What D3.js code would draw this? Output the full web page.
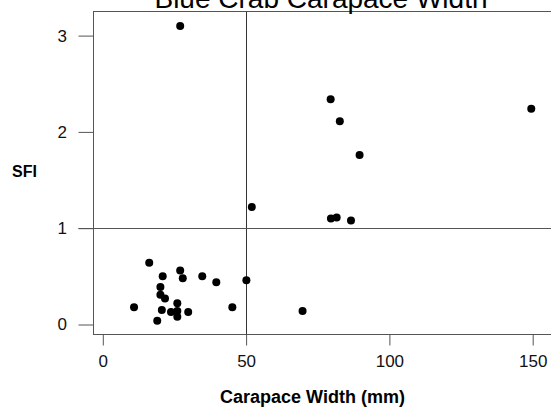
<!DOCTYPE html>
<html>
<head>
<meta charset="utf-8">
<script src="https://cdn.jsdelivr.net/npm/d3@7/dist/d3.min.js"></script>
<style>
  body { margin: 0; background: #fff; }
  svg { display: block; font-family: "Liberation Sans", Arial, sans-serif; }
</style>
</head>
<body>
<svg id="chart" width="551" height="407"></svg>
<script>

// carapace width (mm) and SFI
var widthMM = [27.0, 79.5, 82.7, 149.5, 89.6, 52.0, 79.6, 81.6, 86.6, 69.7,
               16.2, 20.9, 27.0, 27.9, 34.7, 39.6, 50.1, 20.1, 20.1, 21.7,
               10.9, 26.0, 20.6, 23.8, 26.0, 26.0, 29.8, 19.0, 45.2];
var sfi = [3.10, 2.34, 2.11, 2.24, 1.76, 1.22, 1.10, 1.11, 1.08, 0.14,
           0.64, 0.50, 0.56, 0.48, 0.50, 0.44, 0.46, 0.39, 0.31, 0.27,
           0.18, 0.22, 0.15, 0.13, 0.14, 0.08, 0.13, 0.04, 0.18];

var xTicks = [0, 50, 100, 150];
var yTicks = [0, 1, 2, 3];
var refX = 50, refY = 1;

var title = "Blue Crab Carapace Width";
var xTitle = "Carapace Width (mm)";
var yTitle = "SFI";

var svg = d3.select("#chart");

// frame of the plot area
var frameL = 93.5, frameT = 11.5, frameB = 334.5, frameR = 553;

var xScale = d3.scaleLinear()
  .domain([0, 150])
  .range([102.8, 532.7]);

var yScale = d3.scaleLinear()
  .domain([0, 3])
  .range([324.5, 35.6]);

svg.append("rect")
  .attr("x", frameL)
  .attr("y", frameT)
  .attr("width", frameR - frameL)
  .attr("height", frameB - frameT)
  .attr("fill", "none")
  .attr("stroke", "#555")
  .attr("stroke-width", 1);

// reference lines
svg.append("line")
  .attr("x1", Math.round(xScale(refX)) + 0.5)
  .attr("x2", Math.round(xScale(refX)) + 0.5)
  .attr("y1", frameT)
  .attr("y2", frameB)
  .attr("stroke", "#333");

svg.append("line")
  .attr("x1", frameL - 15)
  .attr("x2", frameR)
  .attr("y1", Math.round(yScale(refY)) + 0.5)
  .attr("y2", Math.round(yScale(refY)) + 0.5)
  .attr("stroke", "#555");

var yAxis = d3.axisLeft(yScale)
  .tickValues(yTicks)
  .tickSize(15)
  .tickPadding(11.5)
  .tickFormat(d3.format("d"));

var xAxis = d3.axisBottom(xScale)
  .tickValues(xTicks)
  .tickSize(11)
  .tickPadding(9.5)
  .tickFormat(d3.format("d"));

svg.append("g")
  .attr("class", "y axis")
  .attr("transform", "translate(" + frameL + ",0)")
  .call(yAxis);

svg.append("g")
  .attr("class", "x axis")
  .attr("transform", "translate(0," + frameB + ")")
  .call(xAxis);

svg.selectAll(".axis .domain").remove();
svg.selectAll(".axis line").attr("stroke", "#555");
svg.selectAll(".axis text")
  .attr("fill", "#111")
  .attr("font-family", "'Liberation Sans', Arial, sans-serif")
  .attr("font-size", 17);

// points
var points = widthMM.map(function(d, i){ return {x: d, y: sfi[i]}; });

svg.selectAll(".dot")
  .data(points)
  .enter().append("circle")
  .attr("class", "dot")
  .attr("r", 4)
  .attr("cx", function(d){ return xScale(d.x); })
  .attr("cy", function(d){ return yScale(d.y); })
  .attr("fill", "#000");

// titles
svg.append("text")
  .text(title)
  .attr("x", 321)
  .attr("y", 8)
  .attr("text-anchor", "middle")
  .attr("font-size", 28)
  .attr("fill", "#000");

svg.append("text")
  .text(xTitle)
  .attr("x", 312.5)
  .attr("y", 402.5)
  .attr("text-anchor", "middle")
  .attr("font-size", 18)
  .attr("font-weight", "bold")
  .attr("fill", "#000");

svg.append("text")
  .text(yTitle)
  .attr("x", 12)
  .attr("y", 176.5)
  .attr("font-size", 16)
  .attr("font-weight", "bold")
  .attr("fill", "#000");

</script>
</body>
</html>
